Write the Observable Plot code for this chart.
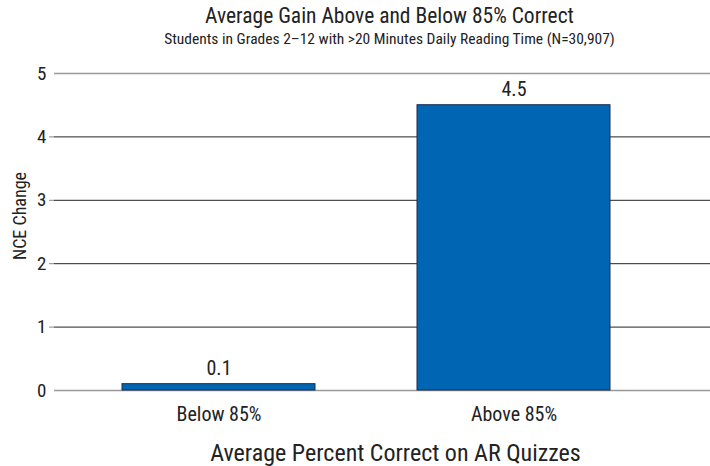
<!DOCTYPE html>
<html><head><meta charset="utf-8">
<script src="https://cdn.jsdelivr.net/npm/d3@7"></script>
<script src="https://cdn.jsdelivr.net/npm/@observablehq/plot@0.6"></script>
<style>body{margin:0;background:#fff;} svg{display:block;} svg text{font-stretch:condensed;}</style>
</head><body><div id="chart"></div>
<script>
const categories = ["Below 85%", "Above 85%"];
const values = [0.1, 4.5];
const yTicks = [0, 1, 2, 3, 4, 5];
const title = "Average Gain Above and Below 85% Correct";
const subtitle = "Students in Grades 2\u201312 with >20 Minutes Daily Reading Time (N=30,907)";
const xLabel = "Average Percent Correct on AR Quizzes";
const yLabel = "NCE Change";

const data = categories.map((c, i) => ({category: c, value: values[i]}));
const font = "'Liberation Sans Narrow', 'Roboto Condensed', 'DejaVu Sans Condensed', 'DejaVu Sans', sans-serif";

const chart = Plot.plot({
  width: 710, height: 466,
  marginTop: 73, marginBottom: 76, marginLeft: 54, marginRight: 0,
  style: {fontFamily: font, background: "#fff", color: "#222", fontStretch: "condensed"},
  x: {domain: categories, range: [70, 661], paddingInner: 0.347, paddingOuter: 0.1735, label: null},
  y: {domain: [0, 5], label: null},
  marks: [
    Plot.ruleY(yTicks.filter(d => d > 0 && d < 5), {stroke: "#222", strokeWidth: 1}),
    Plot.ruleY([5], {stroke: "#999", strokeWidth: 1.5}),
    Plot.ruleX([0], {frameAnchor: "left", stroke: "#999", strokeWidth: 1.5}),
    Plot.ruleY([0], {stroke: "#999", strokeWidth: 1.5}),
    Plot.barY(data, {x: "category", y: "value", fill: "#0066b3", stroke: "#1c2f4f", strokeWidth: 1}),
    Plot.text(data, {x: "category", y: "value", text: d => d.value.toFixed(1), dy: -16, fontSize: 20, fill: "#222"}),
    Plot.axisY({ticks: yTicks.filter(d => d > 0 && d < 5), tickSize: 5, stroke: "#888", text: null}),
    Plot.axisY({ticks: yTicks, tickSize: 0, tickPadding: 8, fontSize: 19, tickFormat: d => d, label: null}),
    Plot.axisX({tickSize: 0, tickPadding: 16, fontSize: 20, label: null}),
    Plot.text([xLabel], {frameAnchor: "bottom", dx: 13, dy: 70, fontSize: 24, fill: "#222"}),
    Plot.text([yLabel], {frameAnchor: "left", textAnchor: "middle", dx: -34, dy: -16, rotate: -90, fontSize: 18, fill: "#222"}),
    Plot.text([title], {frameAnchor: "top", dx: 7, dy: -66, fontSize: 21.5, fill: "#222"}),
    Plot.text([subtitle], {frameAnchor: "top", dx: 7, dy: -41, fontSize: 15.5, fill: "#222"})
  ]
});
document.getElementById("chart").appendChild(chart);
</script></body></html>
